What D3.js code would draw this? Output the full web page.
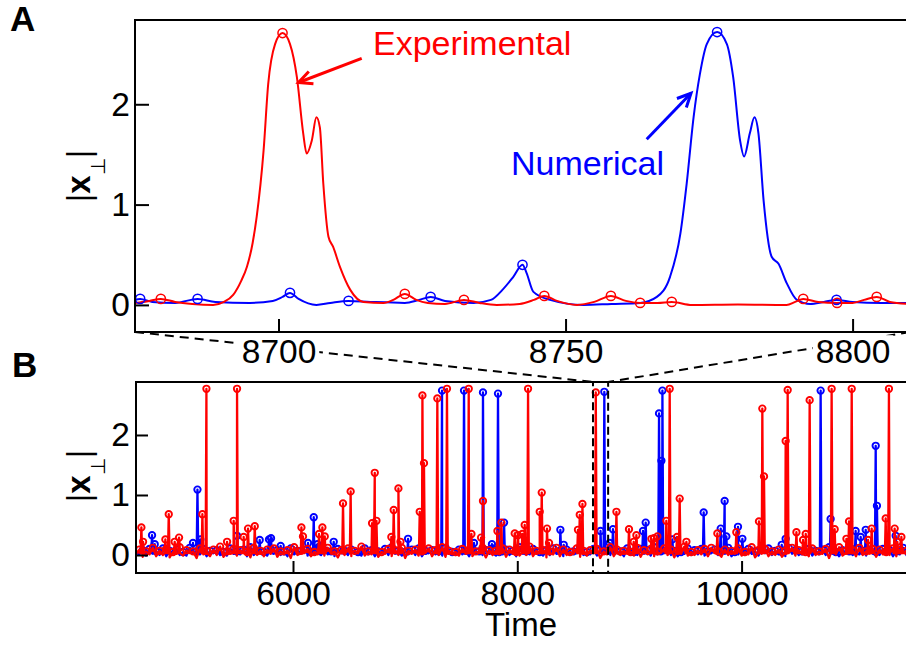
<!DOCTYPE html>
<html><head><meta charset="utf-8">
<script src="https://cdn.jsdelivr.net/npm/d3@7"></script>
<style>
body{margin:0;background:#fff;}
svg{display:block;font-family:"Liberation Sans",Arial,sans-serif;}
</style></head>
<body><svg id="c" width="906" height="648"></svg>
<script>
// ---------- Panel A data (zoom window) ----------
const expCurveA = [[8675,0.02],[8677.5,0.04],[8679.5,0.06],[8682,0.03],[8685,0.01],[8688.6,0.0],[8690.5,0.03],[8692.1,0.1],[8693.5,0.24],[8694.5,0.38],[8695.5,0.62],[8696.2,0.88],[8697.4,1.54],[8698.2,2.2],[8699.4,2.6],[8700.7,2.71],[8702,2.6],[8703.2,2.27],[8704.3,1.71],[8704.9,1.51],[8705.8,1.64],[8706.6,1.87],[8707.2,1.77],[8707.8,1.21],[8708.7,0.68],[8709.5,0.58],[8710.7,0.38],[8712.5,0.15],[8714.8,0.03],[8718.3,0.02],[8720,0.05],[8722,0.11],[8724,0.05],[8726,0.02],[8729,0.01],[8732.3,0.05],[8735,0.02],[8738,0.0],[8742,0.01],[8744.5,0.05],[8746.3,0.09],[8748.5,0.04],[8752,0.0],[8755,0.03],[8757.9,0.09],[8760.5,0.04],[8763,0.02],[8766,0.02],[8768.5,0.03],[8772,0.0],[8780,0.005],[8788.5,0.0],[8790,0.03],[8791.4,0.06],[8794,0.03],[8797.3,0.02],[8800,0.02],[8802,0.05],[8804.2,0.08],[8806.5,0.03],[8810,0.01]];
const expMarksA = [[8679.5,0.06],[8700.7,2.71],[8722,0.11],[8732.3,0.05],[8746.3,0.09],[8757.9,0.09],[8763,0.02],[8768.5,0.03],[8791.4,0.06],[8797.3,0.02],[8804.2,0.08]];
const numCurveA = [[8675,0.05],[8675.9,0.06],[8678,0.03],[8682,0.02],[8685.9,0.06],[8689,0.03],[8695,0.02],[8699,0.04],[8700.7,0.08],[8702,0.12],[8703.5,0.06],[8706.6,0.0],[8709,0.02],[8712.2,0.04],[8716,0.03],[8722,0.02],[8724.5,0.05],[8726.5,0.08],[8729,0.04],[8734,0.02],[8737,0.05],[8739,0.15],[8740.9,0.28],[8742.5,0.40],[8743.2,0.32],[8744.4,0.13],[8747.3,0.05],[8753.1,0.0],[8758,0.01],[8763,0.02],[8765.9,0.08],[8768.2,0.28],[8770,0.71],[8771.1,1.21],[8772.3,1.87],[8773.4,2.3],[8774.6,2.6],[8776.4,2.72],[8778.1,2.6],[8779.2,2.27],[8780.4,1.64],[8781.1,1.48],[8782.1,1.71],[8782.9,1.87],[8783.6,1.71],[8784.5,1.04],[8785.9,0.48],[8787.1,0.41],[8788.5,0.22],[8790.3,0.05],[8792.6,0.01],[8795,0.03],[8797.2,0.05],[8800,0.03],[8805,0.02],[8810,0.02]];
const numMarksA = [[8675.9,0.06],[8685.9,0.06],[8702,0.12],[8712.2,0.04],[8726.5,0.08],[8742.5,0.40],[8776.4,2.72],[8797.2,0.05]];
const xTicksA = [8700, 8750, 8800];
const yTicksA = [0, 1, 2];

// ---------- Panel B data (full record) ----------
const noiseStartB = 4600, noiseStepB = 30;
const expNoiseB = [0.02,0.09,-0.03,0.06,0.01,0.12,-0.02,0.07,0.0,0.1,
-0.04,0.05,0.02,0.13,-0.01,0.08,0.03,0.06,-0.05,0.11,
0.01,0.07,-0.02,0.09,0.0,0.14,-0.03,0.06,0.02,0.1,
-0.01,0.08,0.03,0.05,-0.04,0.12,0.0,0.07,-0.02,0.09,
0.02,0.11,-0.03,0.06,0.01,0.08,-0.05,0.13,0.0,0.07,
0.03,0.1,-0.02,0.05,0.01,0.09,-0.01,0.12,0.02,0.06,
-0.04,0.08,0.0,0.11,-0.02,0.07,0.03,0.14,-0.01,0.06,
0.01,0.09,-0.03,0.05,0.02,0.1,-0.02,0.08,0.0,0.12,
-0.05,0.07,0.02,0.09,-0.01,0.06,0.03,0.11,-0.02,0.08,
0.0,0.13,-0.03,0.07,0.01,0.05,-0.01,0.1,0.02,0.09,
-0.02,0.06,0.03,0.12,-0.04,0.08,0.0,0.07,0.01,0.11,
-0.03,0.09,0.02,0.05,-0.01,0.1,0.0,0.14,-0.02,0.07,
0.03,0.08,-0.04,0.06,0.01,0.12,-0.02,0.09,0.0,0.05,
0.02,0.11,-0.03,0.07,-0.01,0.08,0.03,0.1,-0.05,0.06,
0.01,0.13,-0.02,0.09,0.0,0.07,0.02,0.05,-0.01,0.12,
-0.03,0.08,0.01,0.1,-0.02,0.06,0.03,0.11,0.0,0.09,
-0.04,0.07,0.02,0.14,-0.01,0.05,0.0,0.08,0.01,0.1,
-0.02,0.12,0.03,0.06,-0.03,0.09,0.0,0.07,0.02,0.11,
-0.01,0.05,0.01,0.13,-0.04,0.08,0.02,0.1,-0.02,0.06,
0.0,0.09,-0.03,0.07,0.03,0.12,-0.01,0.08,0.01,0.05,
-0.02,0.11,0.0,0.06,0.02,0.1,-0.05,0.09,0.01,0.13,
-0.01,0.07,0.03,0.08,-0.02,0.12,0.0,0.06,0.02,0.1,
-0.03,0.09,0.01,0.05,0.0,0.11,-0.02,0.08,0.03,0.07,
0.0];
const numNoiseB = [0.04,0.01,0.08,-0.01,0.1,0.02,0.06,0.0,0.11,-0.02,
0.07,0.03,0.09,0.0,0.05,-0.01,0.12,0.02,0.06,0.01,
0.1,-0.02,0.07,0.03,0.08,0.0,0.05,-0.01,0.11,0.02,
0.06,0.01,0.09,-0.02,0.13,0.0,0.07,0.03,0.05,-0.01,
0.1,0.02,0.08,0.0,0.06,-0.02,0.11,0.01,0.07,0.03,
0.09,-0.01,0.05,0.02,0.12,0.0,0.08,0.01,0.06,-0.02,
0.1,0.03,0.07,0.0,0.09,0.02,0.05,-0.01,0.11,0.01,
0.08,-0.02,0.06,0.03,0.1,0.0,0.13,0.02,0.07,-0.01,
0.05,0.01,0.09,0.0,0.11,-0.02,0.07,0.03,0.08,0.01,
0.06,-0.01,0.12,0.02,0.05,0.0,0.09,0.01,0.07,-0.02,
0.1,0.03,0.06,0.0,0.08,0.02,0.11,-0.01,0.05,0.01,
0.09,0.0,0.07,-0.02,0.13,0.02,0.06,0.01,0.1,0.03,
0.05,-0.01,0.08,0.0,0.11,0.02,0.07,-0.02,0.09,0.01,
0.06,0.03,0.12,0.0,0.05,0.01,0.1,-0.01,0.08,0.02,
0.07,0.0,0.09,0.03,0.06,-0.02,0.11,0.01,0.05,0.0,
0.1,0.02,0.08,-0.01,0.13,0.01,0.06,0.03,0.09,0.0,
0.07,-0.02,0.05,0.02,0.11,0.0,0.08,0.01,0.1,-0.01,
0.06,0.03,0.09,0.0,0.07,0.02,0.12,-0.02,0.05,0.01,
0.08,0.0,0.1,0.02,0.06,-0.01,0.09,0.03,0.11,0.0,
0.07,0.01,0.05,-0.02,0.12,0.02,0.08,0.0,0.06,0.03,
0.1,-0.01,0.07,0.01,0.09,0.0,0.13,0.02,0.05,-0.02,
0.08,0.03,0.06,0.0,0.11,0.01,0.07,-0.01,0.09,0.02,
0.05,0.0,0.1,0.02,0.08,-0.02,0.06,0.01,0.12,0.0,
0.07];
const expSpikesB = [[4648,0.46],[4663,0.22],[4862,0.26],[4892,0.68],[4945,0.22],[4984,0.29],[5192,0.68],[5228,2.77],[5412,0.22],[5471,0.57],[5501,2.77],[5560,0.30],[5599,0.44],[5659,0.48],[6075,0.46],[6089,0.31],[6232,0.35],[6262,0.46],[6283,0.31],[6446,0.86],[6514,1.06],[6705,0.53],[6729,1.37],[6744,0.57],[6877,0.30],[6898,0.75],[6940,1.11],[6958,0.22],[7130,0.72],[7154,2.66],[7168,1.53],[7287,2.61],[7373,2.77],[7567,2.77],[7591,0.35],[7677,0.29],[7694,0.90],[7823,0.40],[7858,0.54],[7977,0.36],[8006,0.33],[8045,0.35],[8066,0.50],[8096,2.77],[8200,0.72],[8218,1.04],[8265,0.44],[8283,0.20],[8541,0.42],[8557,0.67],[8581,0.85],[8700,2.71],[8884,0.72],[8996,0.43],[9038,0.22],[9062,0.33],[9196,0.27],[9219,0.28],[9249,0.31],[9329,0.57],[9359,2.77],[9424,0.30],[9448,0.94],[9508,0.22],[9784,0.36],[9953,0.38],[10155,0.56],[10185,2.44],[10200,1.31],[10393,1.90],[10411,2.75],[10489,0.38],[10548,0.25],[10572,0.35],[10607,2.58],[10803,2.77],[10830,0.43],[10935,0.27],[10958,0.56],[10982,2.77],[11128,0.25],[11160,0.44],[11285,0.61],[11314,2.77],[11365,0.44],[11389,0.22],[11425,0.30]];
const numSpikesB = [[4743,0.33],[4767,0.18],[5108,0.20],[5148,1.09],[5174,0.26],[5501,0.32],[5703,0.25],[5786,0.26],[5804,0.28],[5890,0.15],[6134,0.20],[6185,0.63],[6218,0.18],[6363,0.22],[7026,0.27],[7329,2.74],[7525,2.74],[7614,0.20],[7694,2.71],[7774,0.18],[7828,2.69],[7882,0.54],[8384,0.42],[8414,0.17],[8742,0.40],[8776,2.72],[8824,0.20],[8853,0.43],[9121,0.40],[9145,0.54],[9264,2.36],[9285,1.57],[9294,2.74],[9383,0.26],[9662,0.71],[9814,0.44],[9849,0.90],[9864,0.31],[9968,0.47],[10007,0.27],[10358,0.17],[10393,0.27],[10705,2.74],[10794,0.60],[11017,0.40],[11062,0.30],[11107,0.42],[11196,1.82],[11207,0.82],[11374,0.32]];
const xTicksB = [6000, 8000, 10000];
const yTicksB = [0, 1, 2];
const zoomWindow = [8675, 8810];

const RED = "#ff0000", BLUE = "#0000ff";
const svg = d3.select("#c");
svg.append("rect").attr("width",906).attr("height",648).attr("fill","#fff");

// scales
const A = {l:135, r:910, t:20, b:332};
const B = {l:136, r:909.8, t:382, b:573};
const xA = d3.scaleLinear().domain(zoomWindow).range([A.l, A.r]);
const yA = d3.scaleLinear().domain([-0.27, 2.84]).range([A.b, A.t]);
const xB = d3.scaleLinear().domain([4600, 11500]).range([B.l, B.r]);
const yB = d3.scaleLinear().domain([-0.3, 2.883]).range([B.b, B.t]);

const defs = svg.append("defs");
defs.append("clipPath").attr("id","clipA").append("rect").attr("x",A.l).attr("y",A.t).attr("width",A.r-A.l).attr("height",A.b-A.t);
defs.append("clipPath").attr("id","clipB").append("rect").attr("x",B.l).attr("y",B.t).attr("width",B.r-B.l).attr("height",B.b-B.t);

// ---------- Panel A ----------
const gA = svg.append("g").attr("clip-path","url(#clipA)");
const lineA = d3.line().x(d=>xA(d[0])).y(d=>yA(d[1])).curve(d3.curveMonotoneX);
gA.append("path").datum(numCurveA).attr("d",lineA).attr("fill","none").attr("stroke",BLUE).attr("stroke-width",2);
gA.append("path").datum(expCurveA).attr("d",lineA).attr("fill","none").attr("stroke",RED).attr("stroke-width",2);
gA.selectAll("circle.nb").data(numMarksA).join("circle").attr("class","nb")
  .attr("cx",d=>xA(d[0])).attr("cy",d=>yA(d[1])).attr("r",4.6).attr("fill","none").attr("stroke",BLUE).attr("stroke-width",1.5);
gA.selectAll("circle.eb").data(expMarksA).join("circle").attr("class","eb")
  .attr("cx",d=>xA(d[0])).attr("cy",d=>yA(d[1])).attr("r",4.6).attr("fill","none").attr("stroke",RED).attr("stroke-width",1.5);

// ---------- Panel B ----------
function buildSeries(noise, spikes){
  const pts = noise.map((v,i)=>[noiseStartB + i*noiseStepB, v]);
  spikes.forEach(([t,h])=>{ pts.push([t-7,0.03],[t,h],[t+7,0.03]); });
  pts.sort((a,b)=>a[0]-b[0]);
  return pts;
}
function noiseMax(noise){
  const out=[];
  for(let i=1;i<noise.length-1;i++){ if(noise[i]>noise[i-1] && noise[i]>noise[i+1]) out.push([noiseStartB+i*noiseStepB, noise[i]]); }
  return out;
}
const gB = svg.append("g").attr("clip-path","url(#clipB)");
const lineB = d3.line().x(d=>xB(d[0])).y(d=>yB(d[1]));
function drawB(noise, spikes, color){
  gB.append("path").datum(buildSeries(noise, spikes)).attr("d",lineB).attr("fill","none").attr("stroke",color).attr("stroke-width",2.3).attr("stroke-linejoin","round");
  const marks = noiseMax(noise).concat(spikes);
  gB.append("g").selectAll("circle").data(marks).join("circle")
    .attr("cx",d=>xB(d[0])).attr("cy",d=>yB(d[1])).attr("r",3.2).attr("fill","none").attr("stroke",color).attr("stroke-width",1.9);
}
drawB(numNoiseB, numSpikesB, BLUE);
drawB(expNoiseB, expSpikesB, RED);

// zoom box in B
svg.append("rect").attr("x",xB(zoomWindow[0])).attr("y",B.t).attr("width",xB(zoomWindow[1])-xB(zoomWindow[0])).attr("height",B.b-B.t)
  .attr("fill","none").attr("stroke","#000").attr("stroke-width",2).attr("stroke-dasharray","8,4");

// connector dashed lines
svg.append("line").attr("x1",A.l).attr("y1",A.b).attr("x2",xB(zoomWindow[0])).attr("y2",B.t)
  .attr("stroke","#000").attr("stroke-width",2).attr("stroke-dasharray","9,6");
svg.append("line").attr("x1",A.r).attr("y1",A.b).attr("x2",xB(zoomWindow[1])).attr("y2",B.t)
  .attr("stroke","#000").attr("stroke-width",2).attr("stroke-dasharray","9,6");

// frames
svg.append("rect").attr("x",A.l).attr("y",A.t).attr("width",A.r-A.l).attr("height",A.b-A.t).attr("fill","none").attr("stroke","#000").attr("stroke-width",2);
svg.append("rect").attr("x",B.l).attr("y",B.t).attr("width",B.r-B.l).attr("height",B.b-B.t).attr("fill","none").attr("stroke","#000").attr("stroke-width",2);

// axes
function styleAxis(g){
  g.select(".domain").remove();
  g.selectAll(".tick line").attr("stroke","#000").attr("stroke-width",2);
  g.selectAll(".tick text").attr("font-size",33.5).attr("fill","#000").attr("font-family","'Liberation Sans',Arial,sans-serif");
}
const axA = svg.append("g").attr("transform",`translate(0,${A.b})`)
  .call(d3.axisBottom(xA).tickValues(xTicksA).tickFormat(d3.format("d")).tickSizeInner(-13).tickSizeOuter(0).tickPadding(7.4));
styleAxis(axA);
// white backing for A tick labels (dashed lines pass behind)
axA.selectAll(".tick").each(function(){
  const t = d3.select(this).select("text"); const bb = t.node().getBBox();
  d3.select(this).insert("rect","text").attr("x",bb.x-3).attr("y",bb.y+2).attr("width",bb.width+6).attr("height",bb.height-4).attr("fill","#fff");
});
styleAxis(svg.append("g").attr("transform",`translate(${A.l},0)`)
  .call(d3.axisLeft(yA).tickValues(yTicksA).tickFormat(d3.format("d")).tickSizeInner(-14).tickSizeOuter(0).tickPadding(5)));
styleAxis(svg.append("g").attr("transform",`translate(0,${B.b})`)
  .call(d3.axisBottom(xB).tickValues(xTicksB).tickFormat(d3.format("d")).tickSizeInner(-12).tickSizeOuter(0).tickPadding(8.4)));
styleAxis(svg.append("g").attr("transform",`translate(${B.l},0)`)
  .call(d3.axisLeft(yB).tickValues(yTicksB).tickFormat(d3.format("d")).tickSizeInner(-12).tickSizeOuter(0).tickPadding(6)));

// y labels |x⊥|
function yLabel(cy){
  const t = svg.append("text").attr("transform",`translate(90,${cy}) rotate(-90)`).attr("text-anchor","middle").attr("font-size",33).attr("fill","#000");
  t.append("tspan").text("|");
  t.append("tspan").attr("font-weight","bold").text("x");
  t.append("tspan").attr("font-size",20).attr("dy",15).text("⊥");
  t.append("tspan").attr("dy",-15).text("|");
}
yLabel(176);
yLabel(476);

// x label
svg.append("text").attr("x",(B.l+906)/2).attr("y",636).attr("text-anchor","middle").attr("font-size",33).text("Time");

// panel letters
svg.append("text").attr("x",10).attr("y",31).attr("font-size",35).attr("font-weight","bold").text("A");
svg.append("text").attr("x",12).attr("y",377).attr("font-size",35).attr("font-weight","bold").text("B");

// annotations with arrows
function arrow(x1,y1,x2,y2,color){
  svg.append("line").attr("x1",x1).attr("y1",y1).attr("x2",x2).attr("y2",y2).attr("stroke",color).attr("stroke-width",3);
  const ang = Math.atan2(y2-y1,x2-x1), L=15, w=0.45;
  const p1=[x2-L*Math.cos(ang-w), y2-L*Math.sin(ang-w)], p2=[x2-L*Math.cos(ang+w), y2-L*Math.sin(ang+w)];
  svg.append("path").attr("d",`M${p1[0]},${p1[1]}L${x2},${y2}L${p2[0]},${p2[1]}`).attr("fill","none").attr("stroke",color).attr("stroke-width",3);
}
arrow(361.7,58.3,298.5,82.5,RED);
arrow(646.7,139.3,691,93.3,BLUE);
svg.append("text").attr("x",373).attr("y",55).attr("font-size",34).attr("fill",RED).text("Experimental");
svg.append("text").attr("x",511).attr("y",175).attr("font-size",34).attr("fill",BLUE).text("Numerical");
</script></body></html>
